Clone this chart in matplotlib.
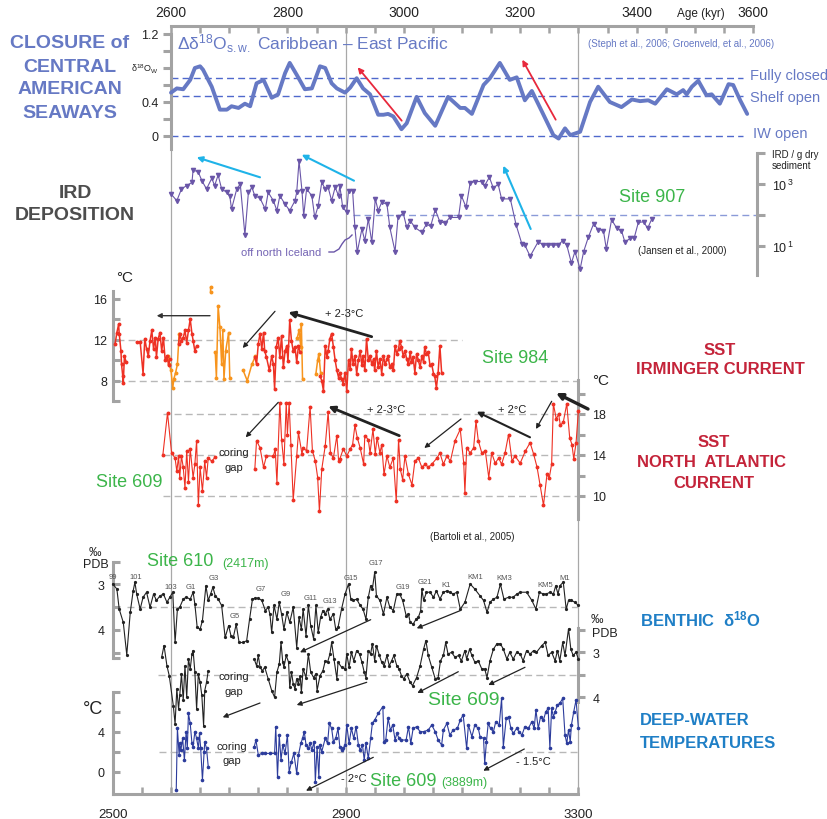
import numpy as np
import matplotlib.pyplot as plt
from matplotlib.ticker import FixedLocator, NullLocator

plt.rcParams['font.family'] = ['Liberation Sans', 'DejaVu Sans']
plt.rcParams['mathtext.fontset'] = 'custom'
plt.rcParams['mathtext.rm'] = 'Liberation Sans'
plt.rcParams['mathtext.it'] = 'Liberation Sans:italic'
plt.rcParams['mathtext.bf'] = 'Liberation Sans:bold'

# ---------------- data (age in kyr) ----------------
# closure of the Central American Seaways, delta18O sea water Caribbean - East Pacific
cas_age = [2600, 2610, 2621, 2633, 2641, 2650, 2655, 2670, 2684, 2696, 2704, 2716, 2727, 2736, 2747,
           2759, 2773, 2784, 2796, 2804, 2816, 2830, 2842, 2856, 2865, 2876, 2885, 2899, 2908, 2919,
           2930, 2942, 2956, 2965, 2973, 2982, 2996, 3005, 3022, 3036, 3054, 3076, 3097, 3105, 3117,
           3137, 3148, 3165, 3182, 3194, 3208, 3220, 3240, 3257, 3266, 3277, 3286, 3303, 3320, 3334,
           3354, 3374, 3392, 3406, 3420, 3432, 3452, 3469, 3480, 3486, 3495, 3506, 3520, 3529, 3543,
           3558, 3566, 3578, 3590]
cas_val = [0.51, 0.56, 0.55, 0.66, 0.80, 0.82, 0.78, 0.58, 0.31, 0.31, 0.35, 0.33, 0.38, 0.35, 0.62,
           0.66, 0.45, 0.49, 0.74, 0.86, 0.72, 0.55, 0.56, 0.82, 0.80, 0.62, 0.56, 0.51, 0.57, 0.68,
           0.56, 0.49, 0.25, 0.25, 0.26, 0.23, 0.08, 0.15, 0.46, 0.27, 0.12, 0.46, 0.33, 0.33, 0.26,
           0.60, 0.68, 0.86, 0.66, 0.69, 0.42, 0.53, 0.25, 0.01, -0.03, 0.09, 0.01, 0.05, 0.40, 0.58,
           0.40, 0.34, 0.43, 0.41, 0.42, 0.38, 0.55, 0.49, 0.54, 0.49, 0.58, 0.65, 0.48, 0.49, 0.38,
           0.61, 0.60, 0.42, 0.26]
cas_levels = {'Fully closed': 0.68, 'Shelf open': 0.47, 'IW open': 0.0}

# IRD Site 907 (log10 of IRD / g dry sediment)
ird_age = [2600, 2610, 2618, 2627, 2636, 2638, 2647, 2653, 2661, 2670,
           2675, 2681, 2687, 2696, 2701, 2704, 2713, 2719, 2727, 2733,
           2739, 2744, 2753, 2762, 2767, 2776, 2782, 2787, 2796, 2804,
           2813, 2816, 2820, 2825, 2828, 2833, 2842, 2847, 2853, 2859,
           2865, 2870, 2876, 2882, 2888, 2890, 2895, 2902, 2905, 2912,
           2916, 2920, 2928, 2933, 2939, 2945, 2951, 2956, 2962, 2971,
           2976, 2985, 2990, 2999, 3005, 3011, 3019, 3031, 3039, 3046,
           3054, 3062, 3071, 3079, 3094, 3099, 3107, 3114, 3122, 3134,
           3139, 3147, 3154, 3162, 3168, 3183, 3193, 3203, 3208, 3217,
           3231, 3240, 3248, 3257, 3265, 3273, 3280, 3288, 3294, 3303,
           3309, 3317, 3326, 3334, 3343, 3348, 3357, 3366, 3374, 3380,
           3389, 3396, 3403, 3412, 3419, 3426]
ird_log10 = [2.68, 2.46, 2.84, 2.95, 3.05, 3.46, 3.38, 3.11, 2.84, 3.18,
             2.95, 3.29, 2.84, 2.73, 2.62, 2.19, 2.84, 3.00, 1.35, 2.73,
             2.89, 2.62, 2.54, 2.19, 2.73, 2.46, 2.14, 2.62, 2.35, 2.14,
             2.46, 2.73, 3.75, 2.79, 1.98, 2.84, 2.62, 1.92, 2.30, 3.05,
             2.84, 2.89, 2.46, 2.89, 2.62, 2.95, 2.25, 2.09, 2.79, 2.79,
             1.60, 0.80, 1.55, 1.17, 1.87, 1.12, 2.52, 2.14, 2.41, 2.35,
             1.60, 0.82, 1.92, 2.06, 1.60, 1.82, 1.60, 1.44, 1.71, 1.63,
             2.17, 1.78, 1.74, 1.92, 1.92, 2.62, 2.25, 3.03, 3.08, 3.08,
             2.95, 3.22, 2.86, 3.00, 2.52, 2.52, 1.68, 1.06, 1.03, 0.67,
             1.14, 1.03, 1.03, 1.03, 1.03, 1.17, 1.03, 0.45, 0.82, 0.26,
             0.82, 1.28, 1.71, 1.53, 1.50, 0.90, 1.85, 1.57, 1.50, 1.12,
             1.25, 1.27, 1.76, 1.78, 1.57, 1.87]

# SST Irminger current, Site 984 (red and orange records, nan = break)
nan = np.nan
sst984_red_age = [2504, 2507, 2510, 2511, 2514, 2515, 2517, 2518, 2520, 2523, nan,
                  2541, 2547, 2552, 2555, 2558, 2561, 2564, 2567, 2570, 2573, 2575, 2578, 2581, 2584,
                  2587, 2590, 2593, 2596, 2598, nan,
                  2613, 2615, 2618, 2621, 2624, 2627, 2630, 2633, 2636, 2638, 2641, 2644, nan,
                  2744, 2747, 2750, 2753, 2756, 2759, 2761, 2764, 2769, 2773, 2776, 2778, 2781, 2784,
                  2787, 2790, 2793, 2796, 2799, 2801, 2804, 2807, 2810, 2813, 2816, 2819, 2822, nan,
                  2856, 2859, 2862, 2865, 2868, 2870, 2873, 2876, 2879, 2882, 2885, 2888, 2890, 2893,
                  2896, 2899, 2902, 2905, 2908, 2910, 2913, 2916, 2919, 2922, 2925, 2928, 2930, 2933,
                  2936, 2939, 2942, 2945, 2948, 2950, 2953, 2956, 2959, 2962, 2965, 2968, 2971, 2973,
                  2976, 2979, 2982, 2985, 2988, 2991, 2993, 2996, 2999, 3002, 3005, 3008, 3011, 3013,
                  3016, 3019, 3022, 3025, 3028, 3031, 3034, 3036, 3039, 3042, 3045, 3048, 3051, 3053,
                  3056, 3059, 3062, 3065]
sst984_red_val = [11.6, 12.7, 13.5, 12.6, 10.9, 9.6, 8.5, 7.8, 10.4, 9.8, nan,
                  11.8, 11.8, 8.7, 12.1, 11.1, 10.4, 11.9, 12.9, 11.1, 12.2, 10.3, 12.1, 12.7, 10.9,
                  12.2, 10.0, 10.4, 9.5, 10.1, nan,
                  11.6, 12.6, 11.9, 12.2, 12.9, 11.7, 12.9, 14.0, 12.6, 11.9, 10.9, 11.4, nan,
                  10.3, 9.6, 11.6, 12.6, 11.1, 12.7, 10.9, 10.3, 9.0, 10.4, 9.6, 7.2, 11.3, 12.2,
                  10.3, 12.4, 9.3, 10.9, 11.4, 9.9, 13.9, 11.9, 10.9, 11.3, 9.8, 11.4, 10.8, nan,
                  8.5, 8.0, 7.0, 11.4, 10.3, 10.9, 12.1, 12.6, 11.3, 10.0, 9.0, 8.3, 8.8, 8.2,
                  7.7, 8.8, 7.0, 10.0, 9.1, 11.1, 9.6, 10.4, 8.7, 10.0, 10.9, 9.5, 10.4, 9.0,
                  12.1, 10.0, 10.4, 9.6, 10.1, 9.0, 10.9, 9.3, 10.1, 8.7, 10.4, 9.6, 10.1, 10.4,
                  9.3, 9.6, 9.0, 11.4, 10.6, 11.1, 11.9, 11.3, 10.4, 10.9, 10.1, 9.6, 10.8, 9.8,
                  10.3, 8.8, 10.6, 10.0, 9.3, 10.4, 9.8, 11.3, 10.6, 10.8, 9.5, 9.6, 8.7, 8.5,
                  7.3, 8.8, 11.4, 8.8]
sst984_orange_age = [2594, 2597, 2600, 2603, 2605, 2608, 2611, 2614, nan,
                     2668, 2668, nan,
                     2676, 2678, 2681, 2684, 2687, 2689, 2691, 2694, 2699, 2701, nan,
                     2724, 2731, 2739, 2745, nan,
                     2817, 2820, 2823, 2824, 2826, nan,
                     2849, 2852, 2854, 2857]
sst984_orange_val = [10.4, 9.6, 9.0, 7.3, 8.2, 8.8, 9.6, 12.6, nan,
                     16.7, 17.1, nan,
                     10.8, 8.3, 15.3, 13.2, 9.6, 12.9, 8.2, 10.9, 12.7, 8.3, nan,
                     9.0, 8.0, 9.6, 10.4, nan,
                     12.2, 12.9, 11.3, 13.5, 8.2, nan,
                     8.7, 10.0, 10.6, 8.8]

# SST North Atlantic current, Site 609
sst609_age = [2586, 2594, 2601, 2607, 2610, 2613, 2615, 2618, 2621, 2624, 2627, 2630, 2633, 2638,
              2641, 2644, 2647, 2650, 2654, 2658, 2661, 2664, 2670, 2676, nan,
              2744, 2747, 2753, 2759, 2764, 2776, 2779, 2782, 2787, 2790, 2794, 2798, 2800, 2803,
              2806, 2810, 2816, 2819, 2825, 2827, 2833, 2839, 2843, 2848, 2852, 2855, 2859, 2865,
              2870, 2874, 2879, 2885, 2888, 2890, 2896, 2902, 2908, 2912, 2916, 2920, 2925, 2931,
              2933, 2939, 2942, 2947, 2951, 2954, 2959, 2962, 2966, 2971, 2976, 2982, 2987, 2991,
              2994, 2998, 3002, 3008, 3014, 3019, 3025, 3031, 3037, 3042, 3048, 3057, 3062, 3068,
              3074, 3080, 3088, 3097, 3103, 3105, 3108, 3114, 3120, 3124, 3128, 3134, 3140, 3146,
              3151, 3157, 3163, 3168, 3174, 3180, 3186, 3191, 3200, 3209, 3217, 3223, 3229, 3234,
              3240, 3246, 3250, 3254, 3257, 3262, 3266, 3269, 3274, 3280, 3285, 3289, 3292, 3296,
              3300]
sst609_val = [14.0, 18.1, 14.2, 13.7, 12.4, 13.9, 11.8, 13.9, 12.8, 10.8, 14.4, 11.4, 14.6, 11.8,
              13.1, 15.4, 9.1, 12.8, 10.5, 13.4, 11.8, 13.7, 13.4, 13.8, nan,
              12.6, 15.4, 14.7, 12.8, 13.9, 13.9, 14.6, 11.3, 19.1, 15.5, 13.1, 19.1, 16.0, 19.1,
              15.0, 9.6, 13.9, 16.2, 14.1, 14.7, 14.4, 18.7, 14.4, 13.4, 11.8, 8.5, 12.6, 14.9,
              18.2, 14.2, 13.7, 15.9, 13.4, 13.6, 14.6, 13.9, 14.6, 15.0, 16.9, 15.7, 14.7, 13.1,
              15.9, 15.5, 14.2, 16.5, 14.1, 15.7, 14.2, 15.0, 12.1, 13.9, 12.8, 13.7, 9.5, 15.5,
              12.6, 11.6, 13.9, 12.1, 11.1, 13.4, 13.7, 12.8, 13.1, 12.8, 13.1, 13.7, 14.2, 13.1,
              13.9, 13.4, 15.4, 16.5, 13.2, 10.3, 14.7, 14.2, 14.7, 17.3, 15.4, 14.2, 14.4, 11.8,
              14.2, 13.2, 13.7, 13.1, 14.2, 16.0, 13.4, 13.9, 13.2, 14.4, 15.2, 14.1, 12.8, 11.1,
              9.1, 12.1, 11.8, 13.1, 19.0, 17.5, 18.0, 16.9, 17.2, 19.0, 15.7, 15.0, 13.6, 15.2,
              18.3]

# benthic delta18O, Site 610 (permil PDB)
b610_age = [2500, 2507, 2511, 2518, 2524, 2530, 2535, 2538, 2541, 2547,
            2552, 2558, 2564, 2570, 2575, 2581, 2587, 2593, 2598, 2603,
            2607, 2611, 2615, 2621, 2626, 2633, 2638, 2641, 2645, 2650,
            2654, 2660, 2664, 2668, 2672, 2676, 2681, 2687, 2693, 2699,
            2703, 2707, 2712, 2717, 2724, 2730, 2735, 2740, 2744, 2750,
            2756, 2762, 2767, 2770, 2773, 2777, 2782, 2786, 2790, 2794,
            2799, 2804, 2810, 2816, 2820, 2824, 2827, 2832, 2836, 2840,
            2845, 2849, 2853, 2857, 2861, 2865, 2869, 2873, 2879, 2883,
            2887, 2893, 2899, 2905, 2909, 2913, 2919, 2925, 2930, 2935,
            2939, 2943, 2946, 2950, 2953, 2959, 2965, 2971, 2976, 2982,
            2988, 2993, 2998, 3004, 3008, 3011, 3016, 3021, 3025, 3029,
            3031, 3034, 3039, 3045, 3051, 3056, 3062, 3068, 3074, 3079,
            3085, 3091, 3097, 3105, 3114, 3122, 3131, 3137, 3143, 3148,
            3154, 3160, 3166, 3172, 3180, 3188, 3194, 3200, 3211, 3220,
            3227, 3233, 3240, 3245, 3251, 3257, 3261, 3265, 3268, 3274,
            3279, 3283, 3288, 3294, 3300]
b610_val = [3.00, 3.11, 3.55, 3.84, 4.55, 3.62, 3.15, 2.96, 3.22, 3.55,
            3.29, 3.18, 3.51, 3.22, 3.36, 3.26, 3.22, 3.40, 3.29, 3.18,
            4.28, 3.55, 3.51, 3.33, 3.29, 3.33, 3.18, 3.44, 3.95, 3.99,
            3.80, 3.04, 3.36, 3.22, 3.07, 3.26, 3.33, 3.47, 4.17, 3.91,
            4.13, 4.17, 3.88, 4.28, 4.28, 4.24, 3.77, 3.33, 3.31, 3.31,
            3.36, 3.58, 3.51, 3.66, 4.06, 3.47, 3.77, 3.40, 3.66, 3.99,
            3.62, 3.84, 3.51, 4.39, 3.73, 3.99, 3.55, 4.13, 3.47, 3.91,
            4.20, 3.47, 4.06, 3.73, 3.58, 3.66, 3.55, 3.77, 3.66, 3.99,
            3.95, 3.55, 3.22, 3.00, 3.33, 3.36, 3.33, 3.47, 3.55, 3.77,
            3.29, 3.04, 3.11, 2.74, 3.26, 3.36, 3.66, 3.29, 3.51, 3.58,
            3.22, 3.22, 3.36, 3.69, 3.66, 3.84, 3.88, 3.77, 3.73, 3.58,
            3.11, 3.36, 3.18, 3.18, 3.29, 3.15, 3.33, 3.18, 3.15, 3.18,
            3.22, 3.18, 3.55, 3.40, 3.00, 3.11, 3.26, 3.36, 3.62, 3.40,
            3.33, 3.29, 3.00, 3.33, 3.29, 3.29, 3.22, 3.18, 3.18, 3.36,
            3.55, 3.18, 3.22, 3.22, 3.18, 3.22, 3.04, 3.22, 3.04, 2.96,
            3.55, 3.36, 3.36, 3.40, 3.47]
stage_names = ['99', '101', '103', 'G1', 'G3', 'G5', 'G7', 'G9', 'G11', 'G13', 'G15', 'G17',
               'G19', 'G21', 'K1', 'KM1', 'KM3', 'KM5', 'M1']

# benthic delta18O, Site 609
b609_age = [2584, 2588, 2593, 2597, 2604, 2607, 2610, 2613, 2615, 2618, 2621, 2624, 2627, 2630,
            2633, 2636, 2638, 2641, 2644, 2647, 2650, 2653, 2656, 2658, 2661, 2664, nan,
            2743, 2747, 2750, 2753, 2757, 2761, 2767, 2773, 2778, 2782,
            2786, 2789, 2792, 2794, 2798, 2802, 2804, 2807, 2810, 2813,
            2816, 2819, 2822, 2824, 2827, 2832, 2836, 2840, 2845, 2849,
            2851, 2856, 2861, 2865, 2869, 2873, 2876, 2880, 2885, 2887,
            2893, 2899, 2902, 2906, 2910, 2914, 2919, 2924, 2928, 2932,
            2935, 2939, 2943, 2946, 2950, 2953, 2958, 2962, 2966, 2971,
            2975, 2979, 2983, 2988, 2992, 2996, 3000, 3005, 3011, 3015,
            3022, 3028, 3034, 3038, 3042, 3048, 3054, 3059, 3063, 3068,
            3072, 3076, 3082, 3088, 3094, 3099, 3105, 3108, 3113, 3117,
            3122, 3128, 3134, 3139, 3143, 3148, 3154, 3160, 3166, 3171,
            3177, 3182, 3188, 3194, 3200, 3205, 3211, 3217, 3223, 3228,
            3237, 3243, 3248, 3254, 3260, 3264, 3268, 3273, 3277, 3283,
            3287, 3291, 3296, 3300]
b609_val = [3.11, 2.85, 3.30, 3.52, 4.19, 4.59, 3.81, 4.26, 3.96, 3.48, 4.07, 3.30, 4.00, 3.15,
            3.37, 3.04, 2.96, 3.44, 4.26, 3.48, 3.67, 3.96, 4.63, 3.85, 3.67, 3.41, nan,
            3.15, 3.30, 3.07, 3.33, 3.41, 3.33, 3.59, 3.85, 4.00, 3.44,
            3.26, 2.78, 3.22, 3.33, 3.07, 3.22, 3.78, 3.44, 3.70, 3.81,
            3.59, 3.70, 3.52, 3.89, 3.37, 3.56, 3.04, 3.44, 3.56, 3.48,
            3.85, 3.52, 3.41, 3.19, 3.22, 3.04, 2.78, 3.15, 3.59, 3.22,
            3.33, 3.37, 3.04, 3.33, 3.00, 3.19, 2.96, 3.04, 3.22, 3.44,
            3.56, 2.96, 3.04, 2.81, 3.19, 2.85, 3.07, 3.22, 3.30, 3.07,
            3.30, 3.19, 3.07, 3.30, 3.37, 3.52, 3.59, 3.48, 3.67, 3.74,
            3.56, 3.30, 2.93, 2.74, 3.07, 3.33, 3.59, 3.56, 3.19, 3.07,
            2.78, 3.04, 3.00, 3.11, 3.07, 3.19, 2.96, 3.15, 2.93, 3.07,
            3.22, 3.19, 3.37, 3.37, 3.56, 3.19, 2.93, 2.81, 2.81, 2.93,
            3.15, 3.00, 3.15, 3.00, 3.04, 3.19, 2.96, 3.04, 2.96, 3.00,
            2.85, 2.78, 3.07, 3.00, 3.19, 2.96, 3.19, 2.78, 3.07, 2.48,
            2.93, 3.07, 3.00, 3.15]

# deep-water temperatures, Site 609 (deg C)
dwt_age = [2609, 2611, 2614, 2615, 2617, 2620, 2623, 2626, 2628, 2630, 2633, 2636, 2638, 2641,
           2644, 2647, 2649, 2651, 2654, 2657, 2658, 2661, 2664, nan,
           2743, 2746, 2750, 2756, 2762, 2770, 2778, 2780, 2783, 2786,
           2789, 2792, 2796, 2800, 2803, 2807, 2811, 2816, 2819, 2823,
           2826, 2829, 2832, 2836, 2839, 2842, 2846, 2848, 2851, 2854,
           2856, 2859, 2865, 2869, 2872, 2876, 2879, 2883, 2887, 2890,
           2893, 2896, 2899, 2902, 2906, 2910, 2914, 2918, 2922, 2925,
           2929, 2932, 2935, 2939, 2943, 2946, 2950, 2956, 2964, 2966,
           2969, 2973, 2977, 2981, 2985, 2988, 2992, 2996, 3004, 3008,
           3012, 3016, 3022, 3028, 3034, 3042, 3048, 3054, 3059, 3065,
           3068, 3074, 3079, 3085, 3092, 3097, 3102, 3108, 3111, 3117,
           3122, 3128, 3131, 3137, 3139, 3142, 3145, 3149, 3154, 3158,
           3164, 3168, 3171, 3176, 3180, 3184, 3188, 3194, 3198, 3203,
           3208, 3214, 3220, 3224, 3227, 3231, 3235, 3240, 3244, 3248,
           3251, 3254, 3257, 3260, 3264, 3268, 3273, 3277, 3280, 3283,
           3286, 3288, 3292, 3296, 3300]
dwt_val = [-1.83, 4.33, 1.67, 2.83, 2.17, 3.33, 1.17, 4.00, 2.33, 5.83, 4.83, 2.83, 2.50, 4.00,
           3.33, 2.33, 3.83, 2.33, -0.83, 2.00, 3.00, 2.33, 0.50, nan,
           2.50, 3.17, 1.67, 1.83, 1.83, 1.83, 1.83, 4.50, -0.50, 3.67,
           1.17, 2.67, 1.83, 3.67, 0.00, 1.00, 1.83, -0.17, 1.67, 2.83,
           3.33, 4.00, 2.67, 2.33, 2.83, 2.17, 3.00, -1.00, 2.50, -0.50,
           2.67, 2.00, 3.33, 2.83, 4.83, 4.33, 3.00, 3.33, 4.33, 2.50,
           2.17, 2.33, 2.67, 4.67, 2.83, 4.33, 3.33, 4.50, 2.67, 2.17,
           2.67, 1.17, 2.83, 1.33, 3.33, 4.83, 5.17, 5.83, 6.50, 3.00,
           3.17, 5.33, 4.17, 4.67, 3.17, 3.83, 3.33, 3.17, 3.17, 4.50,
           2.83, 4.33, 4.50, 4.00, 4.00, 4.17, 4.67, 4.00, 3.17, 2.67,
           4.17, 4.83, 3.67, 4.17, 4.33, 5.17, 5.67, 2.33, 4.67, 3.50,
           4.67, 4.33, 3.50, 3.33, 0.83, 3.00, 4.83, 4.33, 4.00, 5.00,
           4.67, 7.33, 2.50, 5.33, 5.50, 4.33, 3.83, 4.33, 4.00, 3.67,
           4.50, 4.33, 5.00, 4.33, 6.17, 4.33, 5.50, 5.17, 6.00, 6.33,
           2.33, 6.33, 5.50, 6.00, 6.67, 6.83, 7.33, 3.67, 2.83, 4.17,
           3.00, 4.67, 6.00, 7.17, 4.33]

# ---------------- styling ----------------
GRAY = '#a3a3a3'
LINEGRAY = '#a8a8a8'
DASHGRAY = '#b8b8b8'
CAS_BLUE = '#6679c4'
CAS_DASH = '#4f68cc'
IRD_PURPLE = '#6a56a8'
RED = '#ee3124'
ORANGE = '#f7941d'
DEEP_BLUE = '#2c3c9c'
GREEN = '#3cb54a'
CRIMSON = '#c4243a'
TITLE_BLUE = '#1f7fc6'
TXT = '#222222'

W, H = 828, 820
X0, KX = 171, 0.582           # pixel column of 2600 kyr, pixels per kyr
XLIM = (2600 - X0 / KX, 2600 + (W - X0) / KX)

fig = plt.figure(figsize=(W / 100, H / 100), dpi=100)


def band(y_ref, v_ref, ppu, log=False):
    # full-figure transparent axes whose y-scale puts v_ref at pixel row y_ref
    ax = fig.add_axes([0, 0, 1, 1])
    ax.patch.set_visible(False)
    ax.set_xlim(XLIM)
    lo = v_ref - (H - y_ref) / ppu
    hi = v_ref + y_ref / ppu
    if log:
        ax.set_yscale('log')
        ax.set_ylim(10 ** lo, 10 ** hi)
    else:
        ax.set_ylim(lo, hi)
    for s in ax.spines.values():
        s.set_visible(False)
    ax.tick_params(which='both', bottom=False, labelbottom=False, left=False, labelleft=False,
                   top=False, labeltop=False, right=False, labelright=False)
    return ax


def yaxis(ax, side, age, lo, hi, ticks, labels, direction, pad, length=5):
    sp = ax.spines[side]
    sp.set_visible(True)
    sp.set_position(('data', age))
    sp.set_bounds(lo, hi)
    sp.set_color(GRAY)
    sp.set_linewidth(2.2)
    ax.yaxis.set_major_locator(FixedLocator(ticks))
    ax.yaxis.set_minor_locator(NullLocator())
    ax.set_yticklabels(labels)
    on = side == 'left'
    ax.tick_params(axis='y', which='major', left=on, labelleft=on, right=not on,
                   labelright=not on, direction=direction, length=length, width=2.2,
                   color=GRAY, labelsize=9, labelcolor=TXT, pad=pad)


def dashes(ax, y, a0, a1, color=DASHGRAY, lw=1.0):
    ax.hlines(y, a0, a1, colors=color, linestyles=(0, (5, 3)), lw=lw, zorder=1)


# ---- panel 1: Central American Seaways ----
ax1 = band(137, 0.0, 85)
ax1.vlines([2600, 2900, 3300], (137 - 795) / 85, (137 - 27) / 85, colors=LINEGRAY, lw=0.9, zorder=0)
for lev in cas_levels.values():
    dashes(ax1, lev, 2600, 3582, color=CAS_DASH, lw=1.0)
ax1.plot(cas_age, cas_val, color=CAS_BLUE, lw=2.8, solid_capstyle='round',
         solid_joinstyle='round', zorder=3)
yaxis(ax1, 'left', 2600, -0.15, 1.2, [0, 0.2, 0.4, 0.6, 0.8, 1.0, 1.2],
      ['0', '', '0.4', '', '', '', '1.2'], 'out', 3, length=6)
top = ax1.spines['top']
top.set_visible(True)
top.set_position(('data', (137 - 27) / 85))
top.set_bounds(2600, 3600)
top.set_color(GRAY)
top.set_linewidth(2.2)
ax1.xaxis.set_major_locator(FixedLocator(np.arange(2600, 3601, 200)))
ax1.xaxis.set_minor_locator(FixedLocator(np.arange(2600, 3601, 50)))
ax1.tick_params(axis='x', which='both', top=True, labeltop=True, bottom=False, labelbottom=False,
                direction='in', color=GRAY, width=1.8, labelsize=10, labelcolor=TXT, pad=5)
ax1.tick_params(axis='x', which='major', length=5)
ax1.tick_params(axis='x', which='minor', length=5)

# ---- panel 2: IRD Site 907 ----
ax2 = band(278, 0.0, 31, log=True)
dashes(ax2, 100, 2913, 3607, color='#8a9ad8', lw=1.0)
ax2.plot(ird_age, 10 ** np.array(ird_log10), color=IRD_PURPLE, lw=0.8, marker='v', ms=3.0,
         mec=IRD_PURPLE, mfc=IRD_PURPLE, zorder=3)
yaxis(ax2, 'right', 3607, 10 ** 0.05, 1e4, [1e1, 1e2, 1e3, 1e4],
      ['$10^{\\,1}$', '', '$10^{\\,3}$', ''], 'out', 5, length=6)

# ---- panel 3: SST Irminger current, Site 984 ----
ax3 = band(381.7, 8.0, 10.25)
dashes(ax3, 12, 2508, 3100)
dashes(ax3, 8, 2508, 3303)
ax3.plot(sst984_orange_age, sst984_orange_val, color=ORANGE, lw=1.1, marker='o', ms=1.8, zorder=3)
ax3.plot(sst984_red_age, sst984_red_val, color=RED, lw=1.1, marker='o', ms=1.8, zorder=4)
yaxis(ax3, 'left', 2500, 6.0, 16.8, [6, 8, 10, 12, 14, 16], ['', '8', '', '12', '', '16'], 'in', 4)

# ---- panel 4: SST North Atlantic current, Site 609 ----
ax4 = band(415, 18.0, 10.25)
for lev in (18, 14, 10):
    dashes(ax4, lev, 2586, 3303)
ax4.plot(sst609_age, sst609_val, color=RED, lw=0.8, marker='o', ms=1.8, zorder=3)
yaxis(ax4, 'right', 3300, 7.8, 21.3, [10, 12, 14, 16, 18, 20], ['10', '', '14', '', '18', ''],
      'out', 5)

# ---- panel 5: benthic d18O Site 610 ----
ax5 = band(585, 3.0, -45.7)
dashes(ax5, 3.5, 2524, 3300)
ax5.plot(b610_age, b610_val, color=TXT, lw=0.8, marker='o', ms=1.3, zorder=3)
yaxis(ax5, 'left', 2500, 2.52, 4.63, [2.52, 3, 3.5, 4, 4.5, 4.63], ['', '3', '', '4', '', ''], 'in', 6)

# ---- panel 6: benthic d18O Site 609 ----
ax6 = band(653.3, 3.0, -45.0)
dashes(ax6, 3.5, 2578, 3303)
ax6.plot(b609_age, b609_val, color=TXT, lw=0.8, marker='o', ms=1.3, zorder=3)
yaxis(ax6, 'right', 3300, 2.45, 4.1, [2.5, 3, 3.5, 4], ['', '3', '', '4'], 'out', 5)

# ---- panel 7: deep-water temperatures Site 609 ----
ax7 = band(732.7, 4.0, 10.0)
dashes(ax7, 2, 2579, 3303)
ax7.plot(dwt_age, dwt_val, color=DEEP_BLUE, lw=0.8, marker='o', ms=1.6, zorder=3)
yaxis(ax7, 'left', 2500, 4 - (795 - 732.7) / 10, 8, [0, 2, 4, 6, 8], ['0', '', '4', '', ''], 'in', 6)
bot = ax7.spines['bottom']
bot.set_visible(True)
bot.set_position(('data', 4 - (795 - 732.7) / 10))
bot.set_bounds(2500, 3300)
bot.set_color(GRAY)
bot.set_linewidth(2.2)
ax7.xaxis.set_major_locator(FixedLocator([2500, 2900, 3300]))
ax7.xaxis.set_minor_locator(FixedLocator(np.arange(2500, 3301, 50)))
ax7.tick_params(axis='x', which='both', bottom=True, labelbottom=True, direction='in', length=5,
                width=1.8, color=GRAY, labelsize=9.5, labelcolor=TXT, pad=10)

# ---------------- overlay for labels and arrows (pixel coordinates) ----------------
ov = fig.add_axes([0, 0, 1, 1])
ov.patch.set_visible(False)
ov.set_xlim(0, W)
ov.set_ylim(H, 0)
ov.axis('off')


def txt(x, y, s, size=9, color=TXT, ha='left', weight='normal', va='center'):
    ov.text(x, y, s, fontsize=size, color=color, ha=ha, va=va, fontweight=weight)


def arrow(tail, head, lw=1.0, color=TXT, ms=7):
    ov.annotate('', xy=head, xytext=tail,
                arrowprops=dict(arrowstyle='-|>', color=color, lw=lw, mutation_scale=ms,
                                shrinkA=0, shrinkB=0))


# left titles
for y, s in zip([44, 67, 90, 113], ['CLOSURE of', 'CENTRAL', 'AMERICAN', 'SEAWAYS']):
    txt(70, y, s, size=14, color=CAS_BLUE, ha='center', weight='bold')
txt(75, 193, 'IRD', size=14, color='#4d4d4d', ha='center', weight='bold')
txt(75, 216, 'DEPOSITION', size=14, color='#4d4d4d', ha='center', weight='bold')

# right titles
txt(720, 351, 'SST', size=12, color=CRIMSON, ha='center', weight='bold')
txt(720, 370, 'IRMINGER CURRENT', size=12, color=CRIMSON, ha='center', weight='bold')
txt(714, 443, 'SST', size=12, color=CRIMSON, ha='center', weight='bold')
txt(712, 463, 'NORTH  ATLANTIC', size=12, color=CRIMSON, ha='center', weight='bold')
txt(714, 484, 'CURRENT', size=12, color=CRIMSON, ha='center', weight='bold')
txt(640, 619, 'BENTHIC  δ$^{\\mathbf{18}}$O', size=12, color=TITLE_BLUE, weight='bold')
txt(640, 721, 'DEEP-WATER', size=12, color=TITLE_BLUE, weight='bold')
txt(640, 744, 'TEMPERATURES', size=12, color=TITLE_BLUE, weight='bold')

# panel 1 labels
txt(677, 14, 'Age (kyr)', size=8.5)
txt(177, 44, 'Δδ$^{18}$O$_{\\mathrm{s.w.}}$ Caribbean – East Pacific', size=12.5, color=CAS_BLUE)
txt(588, 44, '(Steph et al., 2006; Groenveld, et al., 2006)', size=7, color=CAS_BLUE)
txt(158, 69, 'δ$^{18}$O$_{\\mathrm{W}}$', size=6.5, ha='right')
txt(750, 76, 'Fully closed', size=10.5, color=CAS_BLUE)
txt(750, 98, 'Shelf open', size=10.5, color=CAS_BLUE)
txt(753, 134, 'IW open', size=10.5, color=CAS_BLUE)
arrow((401.7, 121.7), (357.7, 68.3), lw=1.3, color='#e8283c', ms=8)
arrow((555.7, 120.7), (522.3, 60.7), lw=1.3, color='#e8283c', ms=8)

# panel 2 labels
txt(772, 155, 'IRD / g dry', size=7)
txt(772, 166, 'sediment', size=7)
txt(619, 197, 'Site 907', size=13, color=GREEN)
txt(638, 251, '(Jansen et al., 2000)', size=7)
txt(241, 253, 'off north Iceland', size=8, color='#7464b4')
ov.plot([329, 334, 339, 342, 345, 349, 352], [253, 253, 250, 245, 241, 239, 236],
        color=IRD_PURPLE, lw=1.0)
for t, h in [((260, 178.3), (196.7, 158.3)), ((354, 181.7), (301.7, 155.7)),
             ((530.7, 230), (503.3, 166.7))]:
    arrow(t, h, lw=1.5, color='#1fb3e8', ms=8)

# panel 3 labels
txt(116, 278, '°C', size=11)
txt(482, 359, 'Site 984', size=13, color=GREEN)
txt(325, 314, '+ 2-3°C', size=8)
arrow((210, 316.7), (156.7, 316.7), lw=1.0, color='#333333')
arrow((275, 312.3), (242.7, 349), lw=0.9)
arrow((371.7, 337.7), (288.3, 313.3), lw=2.0, ms=9)

# panel 4 labels
txt(592, 381, '°C', size=11)
txt(96, 483, 'Site 609', size=13, color=GREEN)
txt(234, 453, 'coring', size=8, ha='center')
txt(234, 468, 'gap', size=8, ha='center')
txt(367, 410, '+ 2-3°C', size=8)
txt(498, 410, '+ 2°C', size=8)
arrow((278.3, 403.3), (245.7, 438.3), lw=0.9)
arrow((399.3, 436.7), (328.3, 407.3), lw=2.0, ms=9)
arrow((461, 420), (424.3, 449), lw=0.9)
arrow((530, 438.3), (476.7, 412.7), lw=1.5, ms=8)
arrow((551.7, 402.3), (536, 430), lw=0.9)
arrow((588, 410), (556, 394), lw=2.4, ms=9)
txt(430, 537, '(Bartoli et al., 2005)', size=7)

# panel 5 labels
txt(95, 553, '‰', size=9, ha='center')
txt(83, 565, 'PDB', size=9)
txt(147, 562, 'Site 610', size=13, color=GREEN)
txt(222, 564, '(2417m)', size=9, color=GREEN)
stage_xy = [(112.7, 578), (136, 578), (170.7, 587.7), (191, 587.7), (213.3, 578.3), (234.3, 616.7),
            (261, 590), (286, 594.3), (311, 599), (330, 601.7), (350.7, 578.3), (376, 564),
            (402.7, 587.7), (425, 582.7), (446, 585.7), (475.7, 577.7), (504, 578.3), (545, 585.7),
            (564.3, 578.3)]
for name, (x, y) in zip(stage_names, stage_xy):
    txt(x, y, name, size=5.5, color='#555555', ha='center')
arrow((370.7, 620.7), (300, 653.3), lw=0.9)
arrow((460, 611.7), (416.7, 629.3), lw=0.9)

# panel 6 labels
txt(597, 620, '‰', size=9, ha='center')
txt(592, 634, 'PDB', size=9)
txt(234, 677, 'coring', size=8, ha='center')
txt(234, 692, 'gap', size=8, ha='center')
txt(428, 701, 'Site 609', size=14, color=GREEN)
arrow((366.7, 683.3), (296.7, 706), lw=0.9)
arrow((458.3, 672.7), (417.3, 694), lw=0.9)
arrow((525, 668.3), (488.3, 686), lw=0.9)
arrow((260, 704), (222.7, 718.3), lw=0.9)

# panel 7 labels
txt(93, 710, '°C', size=13, ha='center')
txt(232, 747, 'coring', size=8, ha='center')
txt(232, 761, 'gap', size=8, ha='center')
txt(370, 782, 'Site 609', size=13, color=GREEN)
txt(441, 783, '(3889m)', size=9, color=GREEN)
txt(341, 779, '- 2°C', size=8)
txt(516, 762, '- 1.5°C', size=8)
arrow((373.3, 758.3), (306, 791.7), lw=0.9)
arrow((524.3, 750), (483.3, 771.7), lw=0.9)

fig.savefig('out.png', dpi=100, facecolor='white')
